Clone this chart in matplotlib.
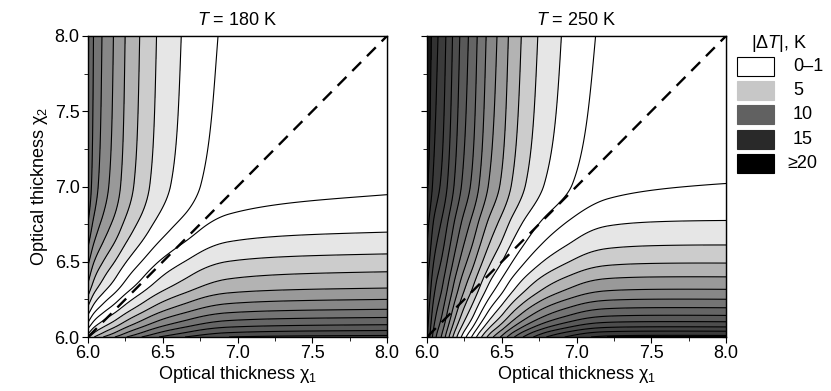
import numpy as np
import matplotlib
matplotlib.use('Agg')
import matplotlib.pyplot as plt
from matplotlib.patches import Rectangle

plt.rcParams['font.family'] = ['Liberation Sans', 'DejaVu Sans']
plt.rcParams['mathtext.fontset'] = 'custom'
plt.rcParams['mathtext.rm'] = 'Liberation Sans'
plt.rcParams['mathtext.it'] = 'Liberation Sans:italic'
plt.rcParams['lines.scale_dashes'] = False

# |dT| profiles read along the top edge (chi2 = 8) and right edge (chi1 = 8);
# the points are where the contour lines cut the frame
temps = [180, 250]

top_chi1_180 = [6.0, 6.042, 6.102, 6.18, 6.259, 6.359, 6.475, 6.649, 6.943, 8.0]
top_dT_180 = [17.5, 15, 13, 11, 9, 7, 5, 3, 1, 0.2]
right_chi2_180 = [6.0, 6.013, 6.047, 6.086, 6.135, 6.19, 6.257, 6.334, 6.445, 6.565, 6.715,
                  7.01, 8.0]
right_dT_180 = [22, 21, 19, 17, 15, 13, 11, 9, 7, 5, 3, 1, 0.25]

top_chi1_250 = [6.0, 6.047, 6.102, 6.147, 6.192, 6.243, 6.303, 6.359, 6.421, 6.497,
                6.571, 6.662, 6.778, 6.945, 7.213, 8.0]
top_dT_250 = [30, 27, 25, 23, 21, 19, 17, 15, 13, 11, 9, 7, 5, 3, 1, 0.2]
right_chi2_250 = [6.0, 6.029, 6.057, 6.09, 6.13, 6.18, 6.236, 6.30, 6.383, 6.474, 6.594,
                  6.76, 7.015, 8.0]
right_dT_250 = [25, 23, 21, 19, 17, 15, 13, 11, 9, 7, 5, 3, 1, 0.15]

# interaction of the two channels (fixed by where the 0-band crosses the
# diagonal and meets the bottom edge)
mix_prod = [0.0, 0.04]
mix_root = [0.0, 0.5]

legend_labels = ['0\u20131', '5', '10', '15', '\u226520']
legend_grays = ['1.0', '0.78', '0.38', '0.16', '0.0']

line_levels = np.arange(-25, 32, 2)
fill_levels = np.concatenate([[-100], line_levels, [100]])


def pchip(x, xp, yp):
    # monotone cubic through the read points, so the contours have no kinks
    xp = np.asarray(xp, float)
    yp = np.asarray(yp, float)
    h = np.diff(xp)
    d = np.diff(yp) / h
    m = np.zeros_like(yp)
    m[0] = d[0]
    m[-1] = d[-1]
    for k in range(1, len(xp) - 1):
        if d[k - 1] * d[k] > 0:
            w1 = 2 * h[k] + h[k - 1]
            w2 = h[k] + 2 * h[k - 1]
            m[k] = (w1 + w2) / (w1 / d[k - 1] + w2 / d[k])
    i = np.clip(np.searchsorted(xp, x) - 1, 0, len(xp) - 2)
    t = (x - xp[i]) / h[i]
    h00 = 2 * t**3 - 3 * t**2 + 1
    h10 = t**3 - 2 * t**2 + t
    h01 = -2 * t**3 + 3 * t**2
    h11 = t**3 - t**2
    return h00 * yp[i] + h10 * h[i] * m[i] + h01 * yp[i + 1] + h11 * h[i] * m[i + 1]


def band_gray(v):
    v = abs(v)
    return str(np.interp(v, [0, 2, 4, 6, 10, 15, 20, 27, 29],
                         [1.0, 1.0, 0.9, 0.8, 0.6, 0.42, 0.3, 0.18, 0.0]))


mids = [(fill_levels[i] + fill_levels[i + 1]) / 2 for i in range(len(fill_levels) - 1)]
mids[0] = -30
mids[-1] = 30
band_colors = [band_gray(m) for m in mids]

chi = np.linspace(6.0, 8.0, 601)
X, Y = np.meshgrid(chi, chi)

fig = plt.figure(figsize=(8.31, 3.91), dpi=100)
ax1 = fig.add_axes([88 / 831, 1 - 337 / 391, 299 / 831, 301 / 391])
ax2 = fig.add_axes([427 / 831, 1 - 337 / 391, 299 / 831, 301 / 391])

panels = [
    (ax1, top_chi1_180, top_dT_180, right_chi2_180, right_dT_180, 0, temps[0]),
    (ax2, top_chi1_250, top_dT_250, right_chi2_250, right_dT_250, 1, temps[1]),
]

diag = [6.0, 8.0]
ticks = [6.0, 6.5, 7.0, 7.5, 8.0]
minor = [6.25, 6.75, 7.25, 7.75]

for ax, tx, tv, rx, rv, k, T in panels:
    g1 = np.exp(pchip(X, tx, np.log(tv)))
    g2 = np.exp(pchip(Y, rx, np.log(rv)))
    S = g1 - g2 + mix_prod[k] * g1 * g2 - mix_root[k] * np.sqrt(g1 * g2)
    ax.contourf(X, Y, S, levels=fill_levels, colors=band_colors)
    ax.contour(X, Y, S, levels=line_levels, colors='k', linewidths=0.8,
               linestyles='solid')
    ax.plot(diag, diag, color='k', lw=1.7, dashes=(9, 6))
    ax.set_xlim(6, 8)
    ax.set_ylim(6, 8)
    ax.set_xticks(ticks)
    ax.set_xticks(minor, minor=True)
    ax.set_yticks(ticks)
    ax.set_yticks(minor, minor=True)
    ax.set_xticklabels(['%.1f' % t for t in ticks])
    ax.tick_params(which='both', direction='out', labelsize=13, pad=2)
    ax.tick_params(which='major', length=4)
    ax.tick_params(which='minor', length=3)
    ax.set_xlabel('Optical thickness \u03c7$_1$', fontsize=13, labelpad=1)
    ax.set_title('$T$ = %d K' % T, fontsize=13, pad=8)
    for sp in ax.spines.values():
        sp.set_linewidth(1.0)
    top = ax.secondary_xaxis('top')
    top.set_xticks(ticks + minor)
    top.set_xticklabels([])
    top.tick_params(direction='in', length=3)
    rgt = ax.secondary_yaxis('right')
    rgt.set_yticks(ticks + minor)
    rgt.set_yticklabels([])
    rgt.tick_params(direction='in', length=3)

ax1.set_yticklabels(['%.1f' % t for t in ticks])
ax1.set_ylabel('Optical thickness \u03c7$_2$', fontsize=13, labelpad=3)
ax2.set_yticklabels([])

# legend drawn by hand at the right
W, H = 831.0, 391.0
fig.text(779 / W, 1 - 43 / H, '|\u0394$T$|, K', fontsize=13, ha='center', va='center')
for i, (lab, g) in enumerate(zip(legend_labels, legend_grays)):
    top_px = 57 + i * 24.2
    fig.patches.append(Rectangle((737 / W, 1 - (top_px + 19) / H), 37 / W, 19 / H,
                                 transform=fig.transFigure, facecolor=g,
                                 edgecolor='k' if i == 0 else g, lw=0.8))
    if lab.startswith('\u2265'):
        fig.text(817 / W, 1 - (top_px + 9.5) / H, lab, fontsize=13, ha='right', va='center')
    else:
        fig.text(793 / W, 1 - (top_px + 9.5) / H, lab, fontsize=13, ha='left', va='center')

fig.savefig('out.png', dpi=100)
